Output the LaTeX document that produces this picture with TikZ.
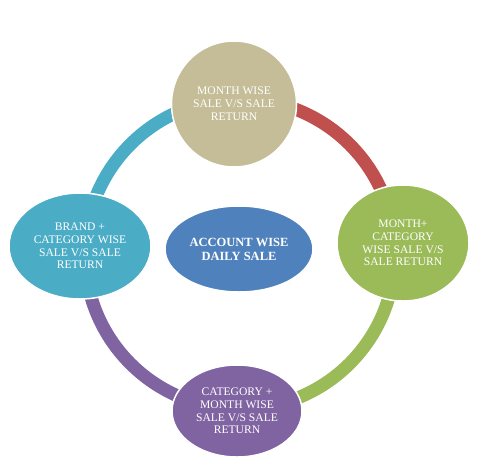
\documentclass[tikz,border=0pt]{standalone}
\usepackage{fontspec}
\setmainfont{Liberation Serif}
\usetikzlibrary{shapes.geometric}
\definecolor{ctan}{HTML}{C4BD97}
\definecolor{cred}{HTML}{C0504D}
\definecolor{cgreen}{HTML}{9BBB59}
\definecolor{cteal}{HTML}{4BACC6}
\definecolor{cpurple}{HTML}{8064A2}
\definecolor{cblue}{HTML}{4F81BD}
\tikzset{
  blob/.style={ellipse, draw=white, line width=1.5pt, inner sep=0pt, align=center,
    text=white, font=\fontsize{11.6}{12.8}\selectfont},
  ring/.style={line width=13pt}
}
\begin{document}
\begin{tikzpicture}[x=1pt,y=1pt]
\useasboundingbox (0,0) rectangle (486,-471);
\fill[white] (0,0) rectangle (486,-471);
\coordinate (c) at (240,-254);
% ring segments
\draw[ring, cred] ([shift={(90:155)}]c) arc (90:0:155);
\draw[ring, cgreen] ([shift={(0:155)}]c) arc (0:-90:155);
\draw[ring, cpurple] ([shift={(-90:155)}]c) arc (-90:-180:155);
\draw[ring, cteal] ([shift={(180:155)}]c) arc (180:90:155);
% nodes
\node[blob, fill=ctan, minimum width=125pt, minimum height=126pt] (top) at (234,-104)
  {MONTH WISE\\SALE V/S SALE\\RETURN};
\node[blob, fill=cgreen, minimum width=132pt, minimum height=116pt] (right) at (403,-243)
  {MONTH+\\CATEGORY\\WISE SALE V/S\\SALE RETURN};
\node[blob, fill=cteal, minimum width=142pt, minimum height=106pt] (left) at (80,-246)
  {BRAND +\\CATEGORY WISE\\SALE V/S SALE\\RETURN};
\node[blob, fill=cpurple, minimum width=130pt, minimum height=92pt] (bottom) at (237,-411)
  {CATEGORY +\\MONTH WISE\\SALE V/S SALE\\RETURN};
\node[blob, fill=cblue, minimum width=148pt, minimum height=86pt,
  font=\fontsize{12.5}{14}\selectfont\bfseries] (center) at (239,-249)
  {ACCOUNT WISE\\DAILY SALE};
\end{tikzpicture}
\end{document}
